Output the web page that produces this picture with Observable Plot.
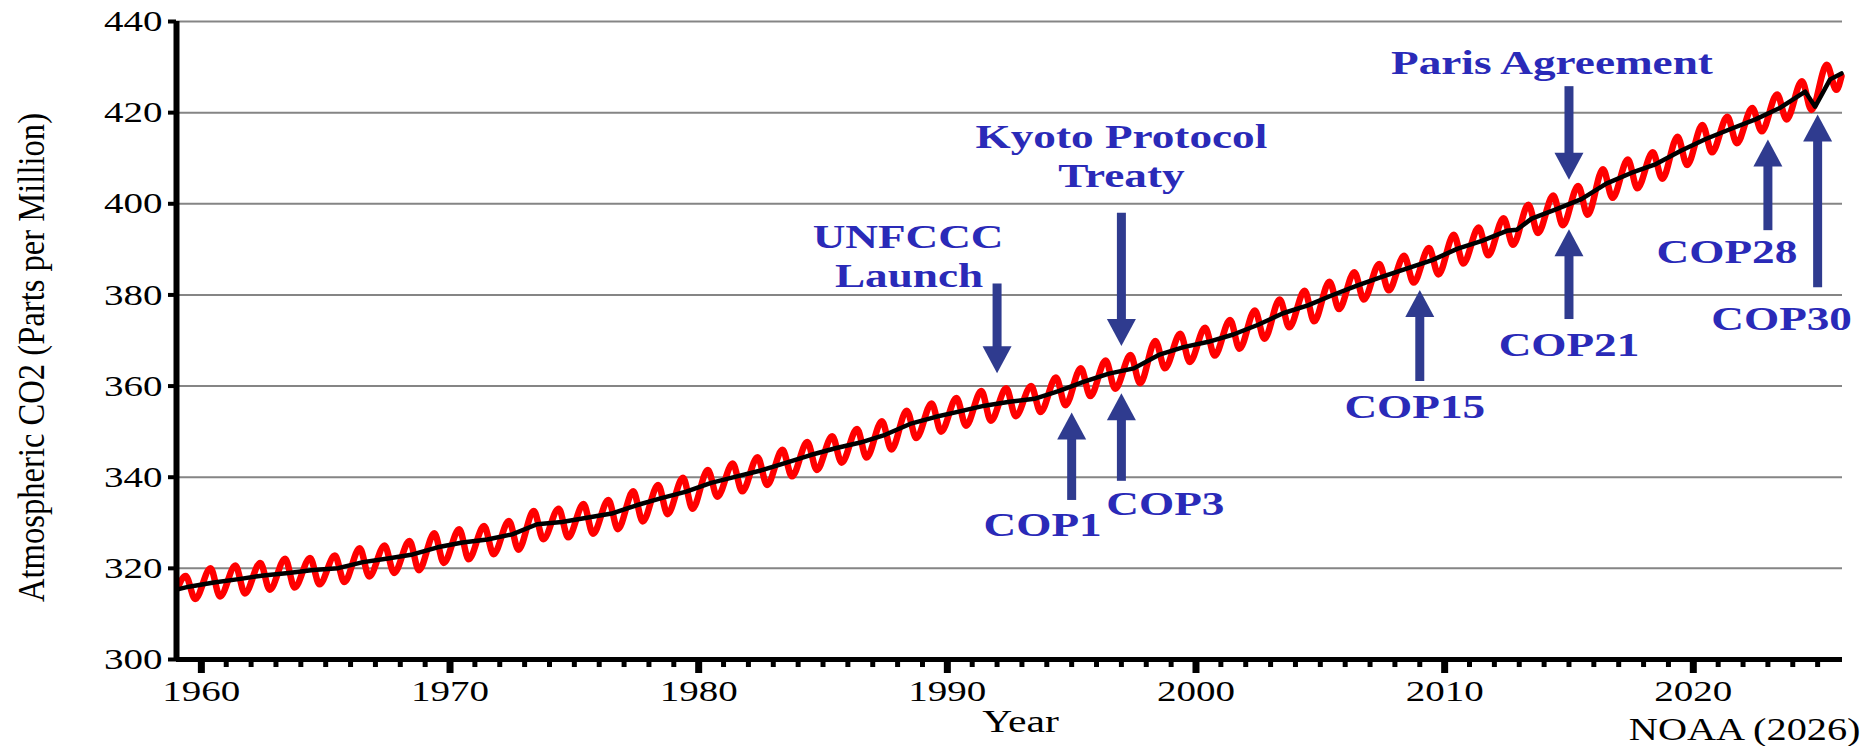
<!DOCTYPE html>
<html><head><meta charset="utf-8">
<script src="https://cdn.jsdelivr.net/npm/d3@7"></script>
<script src="https://cdn.jsdelivr.net/npm/@observablehq/plot@0.6"></script>
<style>
html,body{margin:0;padding:0;background:#fff;}
#chart{width:1868px;height:746px;overflow:hidden;}
</style></head><body><div id="chart"></div>
<script>
// ---------- data ----------
const years = [1959,
 1960,1961,1962,1963,1964,1965,1966,1967,1968,1969,
 1970,1971,1972,1973,1974,1975,1976,1977,1978,1979,
 1980,1981,1982,1983,1984,1985,1986,1987,1988,1989,
 1990,1991,1992,1993,1994,1995,1996,1997,1998,1999,
 2000,2001,2002,2003,2004,2005,2006,2007,2008,2009,
 2010,2011,2012,2013,2014,2015,2016,2017,2018,2019,
 2020,2021,2022,2023,2024,2025];
// spring (May) maxima of the monthly record
const springPeak = [318.3,
 320.0,320.6,321.2,322.1,322.3,322.8,324.4,325.0,326.0,327.7,
 328.6,329.3,330.4,332.6,333.1,334.1,335.0,336.9,338.3,339.9,
 341.6,343.0,344.4,346.0,347.7,349.0,350.6,352.3,354.6,356.2,
 357.4,358.9,359.5,360.0,361.9,363.9,365.6,366.8,369.9,371.5,
 372.8,374.5,376.6,379.0,380.9,382.9,385.0,386.8,388.6,390.3,
 393.2,394.8,396.8,399.8,401.8,403.9,407.6,409.7,411.3,414.7,
 417.3,419.1,421.0,424.0,426.9,430.5];
// autumn (Sep/Oct) minima of the monthly record
const autumnLow = [313.3,
 313.8,314.5,315.3,315.8,316.5,317.0,318.2,319.0,319.6,321.2,
 322.0,323.1,324.1,326.4,326.8,327.6,328.6,330.3,331.9,333.1,
 335.7,336.9,338.3,340.2,341.6,343.2,344.3,346.1,348.6,350.0,
 351.3,352.4,353.4,354.3,355.8,357.8,359.4,360.6,363.9,365.3,
 366.7,368.2,370.4,372.9,374.2,376.9,379.0,381.0,382.7,384.5,
 386.9,388.7,391.0,393.6,395.3,397.6,401.3,403.4,405.5,408.5,
 411.3,413.3,415.9,418.5,420.6,425.0];
const monthlyStart = 315.6, monthlyEnd = 428.0;
// de-seasonalised trend (annual means)
const trend = [315.98,
 316.91,317.64,318.45,318.99,319.62,320.04,321.37,322.18,323.05,324.62,
 325.68,326.32,327.46,329.68,330.19,331.12,332.03,333.84,335.41,336.84,
 338.76,340.12,341.48,343.15,344.87,346.35,347.61,349.31,351.69,353.20,
 354.45,355.70,356.54,357.21,358.96,360.97,362.74,363.88,366.84,368.54,
 369.71,371.32,373.45,375.98,377.70,379.98,382.09,384.02,385.83,387.64,
 390.10,391.85,394.06,396.74,398.81,401.01,404.41,406.76,408.72,411.65,
 414.21,416.41,418.53,421.08,424.61,427.3];
const trendStart = 315.4, trendEnd = 428.6;
const trendDipTimes = [2012.9, 2024.9];
const trendDipValues = [394.3, 421.3];

const yTicks = [300,320,340,360,380,400,420,440];
const decadeTicks = [1960,1970,1980,1990,2000,2010,2020];

// events (year, arrow tail, arrow tip in ppm)
const eventNames = ["UNFCCC Launch","COP1","COP3","Kyoto Protocol Treaty","COP15","Paris Agreement","COP21","COP28","COP30"];
const eventYears = [1992,1995,1997,1997,2009,2015,2015,2023,2025];
const arrowTail  = [382.4,334.9,339.1,397.9,361.0,425.7,374.6,394.1,381.6];
const arrowTip   = [362.8,354.2,358.4,368.8,381.1,405.3,394.4,414.1,419.6];

// ---------- build series ----------
const monthly = [{t: 1959.04, v: monthlyStart}];
years.forEach((yr, i) => {
  monthly.push({t: yr + 0.37, v: springPeak[i]});
  monthly.push({t: yr + 0.75, v: autumnLow[i]});
});
monthly.push({t: 2025.96, v: monthlyEnd});

const trendPts = [{t: 1959.04, v: trendStart}];
years.forEach((yr, i) => trendPts.push({t: yr + 0.5, v: trend[i]}));
trendDipTimes.forEach((t, i) => trendPts.push({t, v: trendDipValues[i]}));
trendPts.push({t: 2025.96, v: trendEnd});
trendPts.sort((a, b) => a.t - b.t);

const events = eventNames.map((name, i) => ({name, year: eventYears[i], tail: arrowTail[i], tip: arrowTip[i]}));
const downs = events.filter(e => e.tail > e.tip);
const ups = events.filter(e => e.tail < e.tip);

// ---------- layout / style ----------
const textBlue = "#2a2ab8";
const arrowBlue = "#2f3b8f";
const headW = 29, headH = 27;
const downHead = {draw(ctx) { ctx.moveTo(0, 0); ctx.lineTo(-headW / 2, -headH); ctx.lineTo(headW / 2, -headH); ctx.closePath(); }};
const upHead = {draw(ctx) { ctx.moveTo(0, 0); ctx.lineTo(-headW / 2, headH); ctx.lineTo(headW / 2, headH); ctx.closePath(); }};

// label lines placed relative to each arrow's tail (pixel offsets)
const labelLines = [
  {text: "UNFCCC", ev: 0, dx: -89, dy: -36},
  {text: "Launch", ev: 0, dx: -88, dy: 3},
  {text: "COP1", ev: 1, dx: -29, dy: 36},
  {text: "COP3", ev: 2, dx: 44, dy: 34},
  {text: "Kyoto Protocol", ev: 3, dx: 0, dy: -65},
  {text: "Treaty", ev: 3, dx: 0, dy: -26},
  {text: "COP15", ev: 4, dx: -5, dy: 36},
  {text: "Paris Agreement", ev: 5, dx: -17, dy: -13},
  {text: "COP21", ev: 6, dx: 0, dy: 36},
  {text: "COP28", ev: 7, dx: -41, dy: 32},
  {text: "COP30", ev: 8, dx: -36, dy: 42}
];

const labelMarks = labelLines.map(l => Plot.text([events[l.ev]], {
  x: "year", y: "tail", text: () => l.text, dx: l.dx, dy: l.dy,
  lineAnchor: "bottom", textAnchor: "middle",
  fill: textBlue, fontSize: 33, fontWeight: "bold", fontFamily: "Liberation Serif"
}));

const chart = Plot.plot({
  width: 1868,
  height: 746,
  marginLeft: 176,
  marginRight: 26,
  marginTop: 21,
  marginBottom: 87,
  style: {fontFamily: "Liberation Serif", color: "black", background: "white", overflow: "visible"},
  x: {domain: [1959, 2026]},
  y: {domain: [300, 440]},
  marks: [
    Plot.ruleY(yTicks.filter(d => d > 300), {stroke: "#858585", strokeWidth: 2}),
    Plot.line(monthly, {x: "t", y: "v", stroke: "#ff0000", strokeWidth: 6.5, curve: "monotone-x"}),
    Plot.line(trendPts, {x: "t", y: "v", stroke: "#000", strokeWidth: 4.5, strokeLinejoin: "round"}),
    // axes
    Plot.axisY({ticks: yTicks, tickSize: 8, tickPadding: 6, strokeWidth: 4, fontSize: 30, label: null, tickFormat: d => String(d)}),
    Plot.axisX({ticks: d3.range(1961, 2026).filter(y => y % 10 !== 0), tickSize: 8, strokeWidth: 5, fill: "none", label: null}),
    Plot.axisX({ticks: decadeTicks, tickSize: 14, tickPadding: 6, strokeWidth: 7, fontSize: 30, label: null, tickFormat: d => String(d)}),
    Plot.ruleX([1959], {stroke: "#000", strokeWidth: 6}),
    Plot.ruleY([300], {stroke: "#000", strokeWidth: 5}),
    // axis titles and source
    Plot.text(["Atmospheric CO2 (Parts per Million)"], {text: d => d, frameAnchor: "left", textAnchor: "middle", lineAnchor: "middle", rotate: -90, dx: -145, dy: 17, fontSize: 38}),
    Plot.text(["Year"], {text: d => d, frameAnchor: "bottom", textAnchor: "middle", lineAnchor: "bottom", dx: 11, dy: 72, fontSize: 32}),
    Plot.text(["NOAA (2026)"], {text: d => d, frameAnchor: "bottom-right", textAnchor: "end", lineAnchor: "bottom", dx: 18, dy: 80, fontSize: 31}),
    // arrows
    Plot.ruleX(downs, {x: "year", y1: "tail", y2: "tip", stroke: arrowBlue, strokeWidth: 9, insetBottom: headH - 2}),
    Plot.ruleX(ups, {x: "year", y1: "tip", y2: "tail", stroke: arrowBlue, strokeWidth: 9, insetTop: headH - 2}),
    Plot.dot(downs, {x: "year", y: "tip", symbol: downHead, fill: arrowBlue, stroke: "none"}),
    Plot.dot(ups, {x: "year", y: "tip", symbol: upHead, fill: arrowBlue, stroke: "none"}),
    ...labelMarks
  ]
});
document.getElementById("chart").append(chart);

// the source graphic is horizontally stretched: widen horizontal text, compress the vertical title
const SX = 1.3, SX_NOTE = 1.37;
chart.querySelectorAll("text").forEach(t => {
  const len = t.getComputedTextLength();
  if (!len) return;
  const isNote = t.getAttribute("fill") === textBlue || (t.closest("g") && t.closest("g").getAttribute("fill") === textBlue);
  if (t.textContent.startsWith("Atmospheric")) t.setAttribute("textLength", 489);
  else t.setAttribute("textLength", (len * (isNote ? SX_NOTE : SX)).toFixed(1));
  t.setAttribute("lengthAdjust", "spacingAndGlyphs");
});
</script>
</body></html>
